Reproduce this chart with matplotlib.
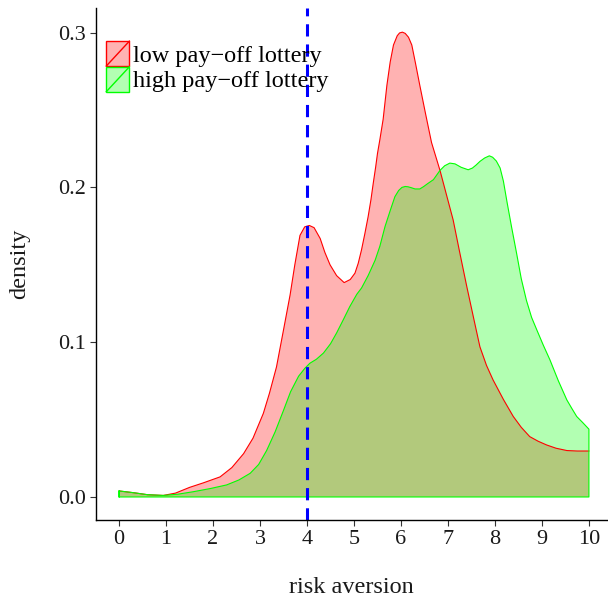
import matplotlib
matplotlib.use("Agg")
import matplotlib.pyplot as plt
from matplotlib.patches import Rectangle, Patch
from matplotlib.lines import Line2D
from matplotlib.legend_handler import HandlerPatch

# density values
low_x = [0.0, 0.3, 0.6, 0.94, 1.2, 1.5, 1.8, 2.15, 2.4, 2.65, 2.85, 3.07, 3.2, 3.35, 3.5,
         3.64, 3.74, 3.85, 3.95, 4.05, 4.15, 4.28, 4.38, 4.49, 4.63, 4.79, 4.92, 5.02, 5.09,
         5.16, 5.23, 5.3, 5.36, 5.41, 5.46, 5.5, 5.55, 5.62, 5.7, 5.77, 5.84, 5.92, 5.97,
         6.03, 6.09, 6.16, 6.23, 6.31, 6.4, 6.52, 6.65, 6.83, 6.97, 7.11, 7.25, 7.4, 7.55,
         7.68, 7.82, 7.96, 8.18, 8.39, 8.56, 8.74, 8.92, 9.1, 9.3, 9.53, 9.75, 10.0]
low_y = [0.0039, 0.0028, 0.0015, 0.001, 0.0025, 0.0062, 0.0092, 0.013, 0.019, 0.028, 0.038,
         0.054, 0.067, 0.084, 0.108, 0.1306, 0.150, 0.169, 0.1745, 0.1754, 0.174, 0.167,
         0.158, 0.150, 0.143, 0.1385, 0.1405, 0.1446, 0.151, 0.1597, 0.17, 0.181, 0.192,
         0.2028, 0.213, 0.222, 0.2308, 0.244, 0.266, 0.281, 0.292, 0.298, 0.2998, 0.3003,
         0.2995, 0.297, 0.292, 0.28, 0.266, 0.248, 0.229, 0.211, 0.195, 0.179, 0.158, 0.136,
         0.115, 0.097, 0.085, 0.0756, 0.063, 0.052, 0.045, 0.039, 0.036, 0.0336, 0.0315,
         0.030, 0.0297, 0.0297]

high_x = [0.0, 0.3, 0.6, 0.94, 1.25, 1.58, 1.95, 2.29, 2.55, 2.79, 2.97, 3.14, 3.32, 3.5,
          3.65, 3.82, 3.95, 4.06, 4.2, 4.35, 4.5, 4.63, 4.78, 4.91, 5.06, 5.16, 5.3, 5.45,
          5.55, 5.66, 5.77, 5.87, 5.95, 6.02, 6.09, 6.15, 6.22, 6.3, 6.4, 6.48, 6.57, 6.69,
          6.83, 6.93, 7.04, 7.15, 7.28, 7.43, 7.52, 7.6, 7.68, 7.78, 7.88, 7.95, 8.03, 8.11,
          8.18, 8.26, 8.35, 8.46, 8.56, 8.67, 8.78, 8.89, 9.03, 9.17, 9.35, 9.53, 9.64, 9.74,
          9.87, 10.0]
high_y = [0.0039, 0.0028, 0.0015, 0.001, 0.0018, 0.0034, 0.0055, 0.0078, 0.011, 0.0153,
          0.021, 0.030, 0.042, 0.056, 0.068, 0.078, 0.083, 0.0864, 0.089, 0.093, 0.099, 0.106,
          0.115, 0.123, 0.131, 0.135, 0.143, 0.153, 0.162, 0.1747, 0.185, 0.194, 0.198, 0.2,
          0.2006, 0.2004, 0.1998, 0.199, 0.199, 0.2005, 0.2025, 0.205, 0.211, 0.214, 0.2157,
          0.2152, 0.213, 0.2114, 0.2125, 0.2145, 0.2168, 0.219, 0.2204, 0.2195, 0.217, 0.2125,
          0.204, 0.19, 0.175, 0.1575, 0.141, 0.127, 0.116, 0.108, 0.098, 0.0886, 0.075,
          0.0627, 0.057, 0.052, 0.048, 0.0438]

labels = ["low pay\u2212off lottery", "high pay\u2212off lottery"]
line_colors = ["#ff0000", "#00ff00"]
x_ticks = list(range(0, 11))
y_ticks = [0.0, 0.1, 0.2, 0.3]
cutoff = 4

plt.rcParams['font.family'] = ['Liberation Serif', 'DejaVu Serif']


class DiagHandler(HandlerPatch):
    def create_artists(self, legend, orig_handle, xdescent, ydescent, width, height, fontsize, trans):
        r = Rectangle((-xdescent, -ydescent), width, height,
                      facecolor=orig_handle.get_facecolor(),
                      edgecolor=orig_handle.get_edgecolor(), lw=1, transform=trans)
        l = Line2D([-xdescent, -xdescent + width], [-ydescent, -ydescent + height],
                   color=orig_handle.get_edgecolor(), lw=1, transform=trans)
        return [r, l]


fig = plt.figure(figsize=(6.08, 6.04), dpi=100)
ax = fig.add_axes([0.158, 0.139, 0.84, 0.848])

ax.fill_between(low_x, 0, low_y, facecolor=line_colors[0], alpha=0.3, lw=0)
ax.plot(low_x, low_y, color=line_colors[0], lw=0.8)
ax.fill_between(high_x, 0, high_y, facecolor=line_colors[1], alpha=0.3, lw=0)
ax.plot([high_x[0]] + high_x + [high_x[-1], high_x[0], high_x[0]],
        [0] + high_y + [0, 0, high_y[0]], color=line_colors[1], lw=0.8)

ax.axvline(cutoff, color="#0000ff", lw=2.2, ls=(0, (4, 2.6)))

ax.set_xlim(-0.49, 10.38)
ax.set_ylim(-0.0149, 0.316)
ax.set_xticks(x_ticks)
ax.set_yticks(y_ticks)
ax.set_yticklabels(["%.1f" % v for v in y_ticks])
ax.tick_params(labelsize=16, length=4, color="#333333", labelcolor="#1a1a1a", width=0.8)
for s in ["top", "right"]:
    ax.spines[s].set_visible(False)
for s in ["left", "bottom"]:
    ax.spines[s].set_linewidth(1.0)

ax.set_xlabel("risk aversion", fontsize=17.5, labelpad=20, color="#1a1a1a")
ax.set_ylabel("density", fontsize=17.5, labelpad=20, color="#1a1a1a")

handles = [Patch(facecolor=(1, 0, 0, 0.3), edgecolor=line_colors[0]),
           Patch(facecolor=(0, 1, 0, 0.3), edgecolor=line_colors[1])]
ax.legend(handles, labels, loc="upper left", bbox_to_anchor=(0.02, 0.935), frameon=False,
          fontsize=17.5, handler_map={Patch: DiagHandler()}, handlelength=0.95, handleheight=1.2,
          handletextpad=0.15, labelspacing=0.0, borderpad=0, borderaxespad=0)

fig.savefig("out.png", dpi=100)
